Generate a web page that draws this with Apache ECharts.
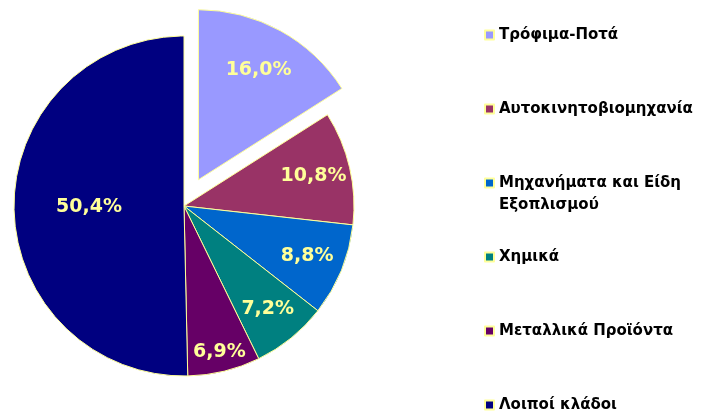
<!DOCTYPE html>
<html>
<head>
<meta charset="utf-8">
<script src="https://cdn.jsdelivr.net/npm/echarts@6/dist/echarts.min.js"></script>
<style>
  html, body { margin: 0; padding: 0; background: #ffffff; }
  #grafico { width: 708px; height: 414px; }
</style>
</head>
<body>
<div id="grafico"></div>
<script>
// Κλάδοι και μερίδια (%)
const kladoi = ['Τρόφιμα-Ποτά', 'Αυτοκινητοβιομηχανία', 'Μηχανήματα και Είδη\nΕξοπλισμού', 'Χημικά', 'Μεταλλικά Προϊόντα', 'Λοιποί κλάδοι'];
const merida = [16.0, 10.8, 8.8, 7.2, 6.9, 50.4];
const chromata = ['#9999FF', '#993366', '#0066CC', '#008080', '#660066', '#000080'];

const kentro = [184, 206];
const aktina = 170;

// Ομάδες ετικετών: διαφανής πίτα με ακτίνα = 2 x απόσταση ετικέτας
const omadesEtiketon = [
  { aktina: 244, deiktes: [0] },
  { aktina: 260, deiktes: [1, 2, 3] },
  { aktina: 294, deiktes: [4] },
  { aktina: 184, deiktes: [5] }
];

// Ομάδες υπομνήματος (το τρίτο στοιχείο έχει δύο γραμμές)
const omadesYpomnimatos = [
  { top: 24, deiktes: [0, 1], kenoPrin: false },
  { top: 150, deiktes: [2], kenoPrin: true },
  { top: 246, deiktes: [3, 4, 5], kenoPrin: false }
];

function morfiPososto(v) {
  return v.toFixed(1).replace('.', ',') + '%';
}

const grafico = echarts.init(document.getElementById('grafico'));

const seiraKuria = {
  name: 'Κλάδοι',
  type: 'pie',
  center: kentro,
  radius: aktina,
  startAngle: 90,
  clockwise: true,
  selectedMode: 'single',
  selectedOffset: 30,
  animation: false,
  label: { show: false },
  labelLine: { show: false },
  emphasis: { disabled: true },
  itemStyle: { borderColor: '#FFFF99', borderWidth: 1 },
  data: kladoi.map((k, i) => ({
    name: k,
    value: merida[i],
    selected: i === 0,
    itemStyle: { color: chromata[i] }
  }))
};

const seiresEtiketon = omadesEtiketon.map(om => ({
  type: 'pie',
  center: kentro,
  radius: om.aktina,
  startAngle: 90,
  clockwise: true,
  selectedMode: 'single',
  selectedOffset: 30,
  silent: true,
  animation: false,
  labelLine: { show: false },
  itemStyle: { color: 'rgba(0,0,0,0)', borderWidth: 0 },
  label: {
    position: 'inside',
    color: '#FFFF99',
    fontFamily: 'DejaVu Sans',
    fontWeight: 'bold',
    fontSize: 19,
    formatter: p => morfiPososto(p.value)
  },
  data: kladoi.map((k, i) => ({
    name: k,
    value: merida[i],
    selected: i === 0,
    label: { show: om.deiktes.includes(i) }
  }))
}));

// Η κενή πρώτη γραμμή φέρνει το εικονίδιο στο ύψος της πρώτης γραμμής κειμένου
const ypomnimata = omadesYpomnimatos.map(om => ({
  orient: 'vertical',
  left: 484,
  top: om.top,
  height: 200,
  padding: 0,
  itemGap: 52,
  itemWidth: 9,
  itemHeight: 9,
  icon: 'rect',
  selectedMode: false,
  data: om.deiktes.map(i => kladoi[i]),
  formatter: name => (om.kenoPrin ? '\n' : '') + name,
  textStyle: {
    color: '#000000',
    fontFamily: 'DejaVu Sans',
    fontWeight: 'bold',
    fontSize: 15,
    lineHeight: 22
  }
}));

grafico.setOption({
  backgroundColor: '#ffffff',
  animation: false,
  legend: ypomnimata,
  series: [seiraKuria, ...seiresEtiketon]
});
</script>
</body>
</html>
